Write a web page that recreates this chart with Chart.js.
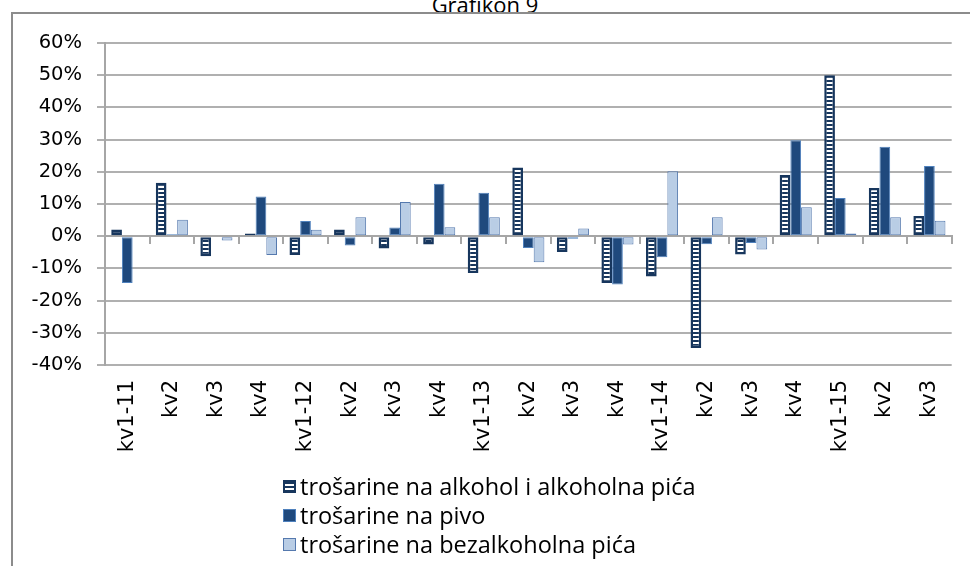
<!DOCTYPE html>
<html>
<head>
<meta charset="utf-8">
<script src="https://cdn.jsdelivr.net/npm/chart.js@4/dist/chart.umd.min.js"></script>
<style>
  html, body { margin:0; padding:0; background:#fff; }
  #wrap { position:relative; width:970px; height:566px; overflow:hidden; background:#fff; }
  #frame { position:absolute; left:11px; top:12px; width:1000px; height:600px; border:2px solid #8c8c8c; box-sizing:border-box; }
  #title { position:absolute; left:0; width:970px; top:-11px; text-align:center; font-family:'Open Sans', sans-serif; font-size:22px; color:#000; }
  #chartBox { position:absolute; left:0; top:0; width:970px; height:566px; }
  #legend { position:absolute; left:283px; top:472px; font-family:'Open Sans', sans-serif; font-size:23.5px; color:#000; }
  .li { height:29px; line-height:29px; white-space:nowrap; display:flex; align-items:center; }
  .sw { width:13px; height:13px; box-sizing:border-box; margin-right:4px; flex:none; }
</style>
</head>
<body>
<div id="wrap">
  <div id="title">Grafikon 9</div>
  <div id="frame"></div>
  <div id="chartBox"><canvas id="c"></canvas></div>
  <div id="legend"></div>
</div>
<script>
// Categories (quarters)
const categories = ['kv1-11','kv2','kv3','kv4','kv1-12','kv2','kv3','kv4','kv1-13','kv2','kv3','kv4','kv1-14','kv2','kv3','kv4','kv1-15','kv2','kv3'];
// Series values (% change)
const alkohol = [2.1, 16.6, -6.2, 0.8, -5.8, 2.1, -3.8, -2.6, -11.4, 21.3, -4.9, -14.5, -12.5, -34.7, -5.7, 19.0, 50.0, 15.0, 6.3];
const pivo    = [-14.5, 0.6, -0.3, 12.3, 4.7, -2.9, 2.7, 16.3, 13.5, -3.7, -0.8, -15.0, -6.5, -2.5, -2.1, 29.8, 11.9, 27.8, 21.8];
const bezalk  = [0.3, 5.1, -1.3, -5.8, 2.0, 5.9, 10.6, 2.8, 5.9, -8.1, 2.4, -2.6, 20.2, 5.9, -4.1, 9.0, 0.8, 5.9, 4.8];
const seriesNames = ['trošarine na alkohol i alkoholna pića', 'trošarine na pivo', 'trošarine na bezalkoholna pića'];
const yMin = -40, yMax = 60, yStep = 10;

const NAVY = '#17365D';
const PIVO_FILL = '#1F497D', PIVO_BORDER = '#4F81BD';
const BEZ_FILL = '#B9CDE5', BEZ_BORDER = '#5579AE';

function stripes() {
  const p = document.createElement('canvas');
  p.width = 4; p.height = 4;
  const g = p.getContext('2d');
  g.fillStyle = NAVY; g.fillRect(0,0,4,4);
  g.fillStyle = '#ffffff'; g.fillRect(0,2,4,2);
  return g.createPattern(p, 'repeat');
}
const stripePattern = stripes();

const ctx = document.getElementById('c').getContext('2d');
new Chart(ctx, {
  type: 'bar',
  data: {
    labels: categories,
    datasets: [
      { label: seriesNames[0], data: alkohol, backgroundColor: stripePattern, borderColor: NAVY, borderWidth: 2.5, borderSkipped: false },
      { label: seriesNames[1], data: pivo, backgroundColor: PIVO_FILL, borderColor: PIVO_BORDER, borderWidth: 1, borderSkipped: false },
      { label: seriesNames[2], data: bezalk, backgroundColor: BEZ_FILL, borderColor: BEZ_BORDER, borderWidth: 1, borderSkipped: false }
    ]
  },
  options: {
    responsive: true,
    maintainAspectRatio: false,
    animation: false,
    layout: { padding: { left: 20, right: 15, top: 43, bottom: 0 } },
    datasets: { bar: { categoryPercentage: 0.72, barPercentage: 1.0 } },
    plugins: { legend: { display: false }, tooltip: { enabled: false }, title: { display: false } },
    scales: {
      x: {
        position: 'bottom',
        offset: true,
        grid: { display: false, drawTicks: false },
        border: { display: false },
        ticks: { autoSkip: false, minRotation: 90, maxRotation: 90, padding: 15, color: '#000',
                 font: { family: 'DejaVu Sans', size: 21 } },
        afterFit: s => { s.height = 201; }
      },
      x0: {
        type: 'category',
        axis: 'x',
        position: { y: 0 },
        offset: true,
        grid: { offset: true, drawOnChartArea: false, drawTicks: true, tickLength: 7, color: '#A6A6A6', lineWidth: 2 },
        border: { display: true, color: '#A6A6A6', width: 2 },
        ticks: { display: false }
      },
      y: {
        min: yMin, max: yMax,
        ticks: { stepSize: yStep, padding: 15, color: '#000', callback: v => v + '%',
                 font: { family: 'DejaVu Sans', size: 19.5 } },
        grid: { color: '#B0B0B0', lineWidth: 2, tickLength: 8 },
        border: { color: '#A6A6A6', width: 2 },
        afterFit: s => { s.width = 85; }
      }
    }
  }
});

// Legend (HTML)
const legendEl = document.getElementById('legend');
const swStyles = [
  'border:2px solid ' + NAVY + '; background: repeating-linear-gradient(to bottom, ' + NAVY + ' 0 2px, #fff 2px 4px);',
  'border:1px solid ' + PIVO_BORDER + '; background:' + PIVO_FILL + ';',
  'border:1px solid ' + BEZ_BORDER + '; background:' + BEZ_FILL + ';'
];
seriesNames.forEach((n, i) => {
  const d = document.createElement('div'); d.className = 'li';
  const s = document.createElement('span'); s.className = 'sw'; s.style.cssText = swStyles[i];
  const t = document.createElement('span'); t.textContent = n;
  d.appendChild(s); d.appendChild(t); legendEl.appendChild(d);
});
</script>
</body>
</html>
